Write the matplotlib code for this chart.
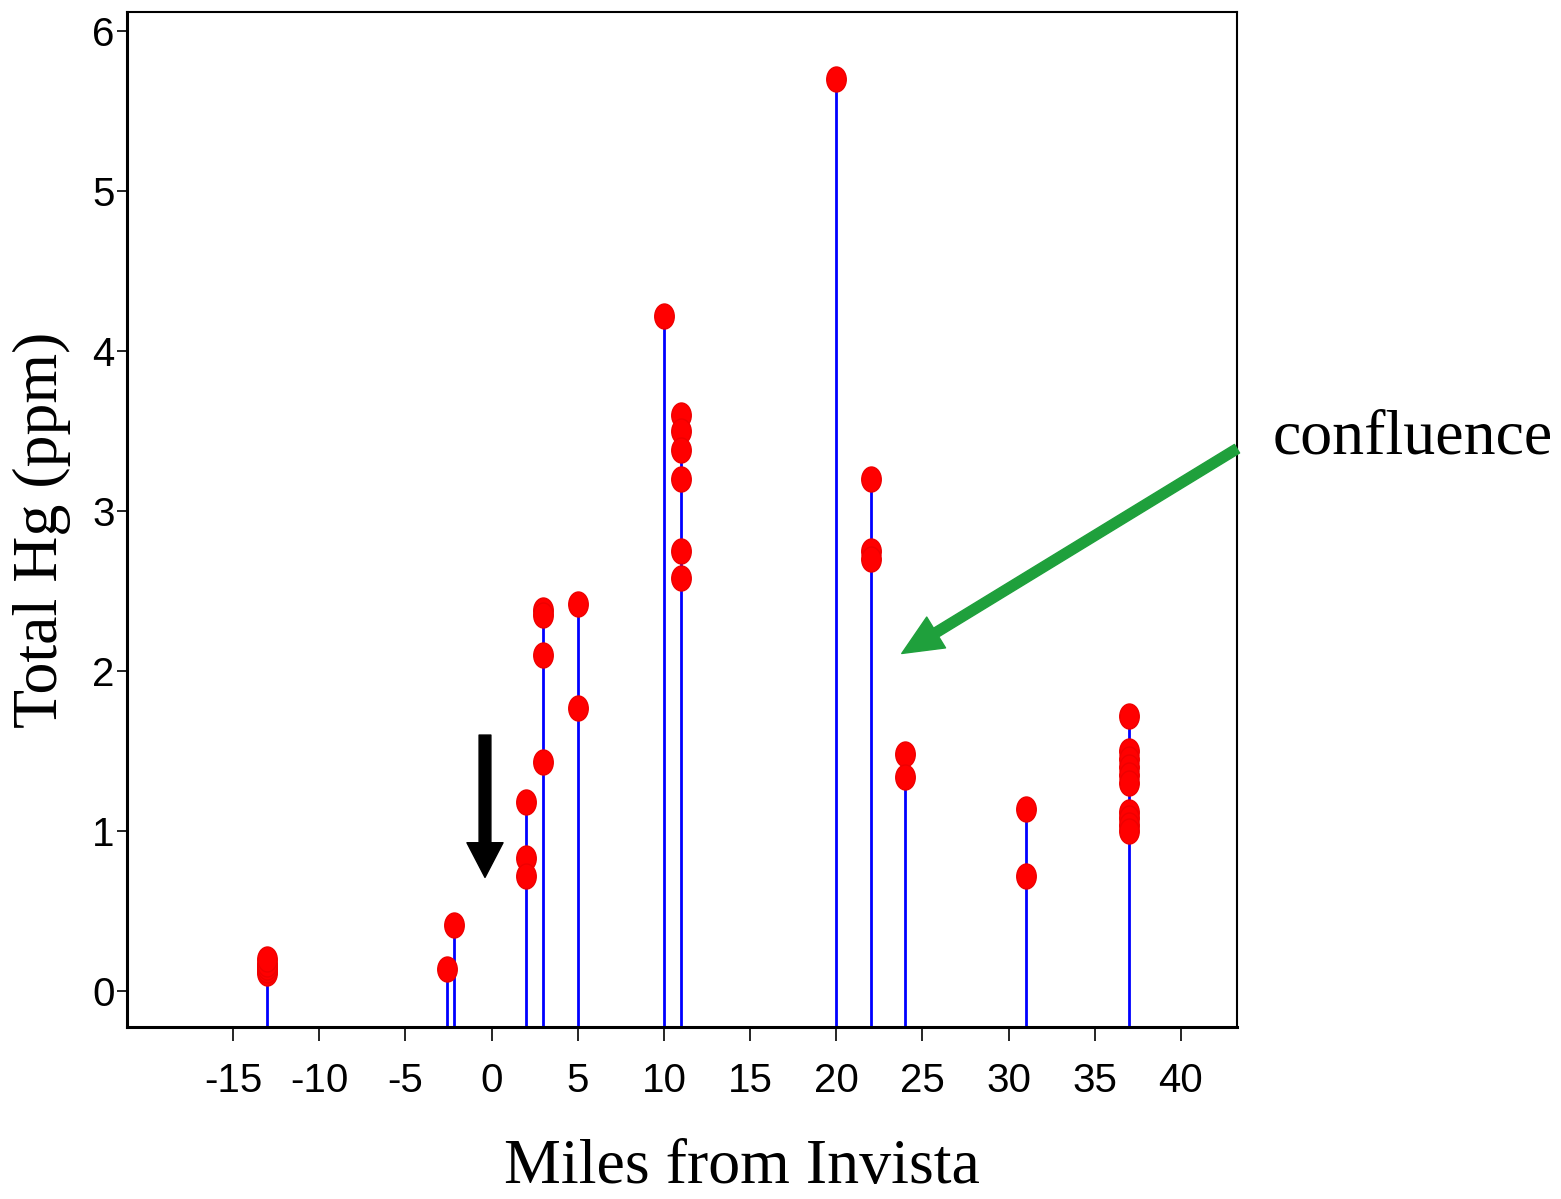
import matplotlib
matplotlib.use("Agg")
import matplotlib.pyplot as plt
from matplotlib.path import Path
from matplotlib.transforms import Affine2D

# sample sites (miles from Invista) and total Hg readings
miles = [-13, -13, -13, -13, -13,
         -2.6, -2.2,
         2, 2, 2,
         3, 3, 3, 3,
         5, 5,
         10,
         11, 11, 11, 11, 11, 11,
         20,
         22, 22, 22,
         24, 24,
         31, 31,
         37, 37, 37, 37, 37, 37, 37, 37, 37, 37]
hg = [0.11, 0.13, 0.15, 0.17, 0.2,
      0.14, 0.41,
      1.18, 0.83, 0.72,
      2.38, 2.35, 2.1, 1.43,
      2.42, 1.77,
      4.22,
      3.6, 3.5, 3.38, 3.2, 2.75, 2.58,
      5.7,
      3.2, 2.75, 2.7,
      1.48, 1.34,
      1.14, 0.72,
      1.72, 1.5, 1.45, 1.4, 1.35, 1.3, 1.12, 1.08, 1.04, 1.0]
xticks = list(range(-15, 41, 5))
yticks = list(range(0, 7))

serif = ["Liberation Serif", "DejaVu Serif"]
narrow = ["Liberation Sans Narrow", "Liberation Sans", "DejaVu Sans"]

fig = plt.figure(figsize=(15.61, 11.99), dpi=100)
ax = fig.add_axes([127 / 1561, 1 - 1027 / 1199, 1110 / 1561, 1015 / 1199])
ax.set_xlim(-21.15, 43.25)
ax.set_ylim(-0.225, 6.12)

# stems: one per site, up to the highest reading
sites = sorted(set(miles))
tops = [max(h for m, h in zip(miles, hg) if m == s) for s in sites]
ax.vlines(sites, -0.3, tops, color="#0000ff", lw=2, zorder=2)

ellipse = Path.unit_circle().transformed(Affine2D().scale(0.78, 1.0))
ax.plot(miles, hg, ls="none", marker=ellipse, ms=18, mfc="#ff0000",
        mec="#ee0000", mew=1, zorder=3)

ax.set_xticks(xticks)
ax.set_yticks(yticks)
ax.set_xticklabels([str(t) for t in xticks], family=narrow, fontsize=29)
ax.set_yticklabels([str(t) for t in yticks], family=narrow, fontsize=29)
ax.tick_params(axis="x", direction="out", length=10, width=1.2, pad=15)
ax.tick_params(axis="y", direction="out", length=7, width=1.2, pad=2)
for side in ["left", "bottom"]:
    ax.spines[side].set_linewidth(2.2)
for side in ["top", "right"]:
    ax.spines[side].set_linewidth(1.5)

fig.text(742 / 1561, 1 - 1168 / 1199, "Miles from Invista", family=serif,
         fontsize=46, ha="center", va="center")
fig.text(42 / 1561, 1 - 530 / 1199, "Total Hg (ppm)", family=serif,
         fontsize=46, rotation=90, ha="center", va="center")

# black arrow marking Invista
ax.annotate("", xy=(-0.38, 0.71), xytext=(-0.38, 1.6),
            arrowprops=dict(arrowstyle="simple,head_length=2.5,head_width=2.6,tail_width=0.85",
                            color="black", shrinkA=0, shrinkB=0, mutation_scale=10),
            annotation_clip=False)

# green arrow to the confluence
ax.annotate("", xy=(23.8, 2.11), xytext=(43.25, 3.39),
            arrowprops=dict(arrowstyle="simple,head_length=2.9,head_width=2.6,tail_width=0.72",
                            color="#1fa03c", shrinkA=0, shrinkB=0, mutation_scale=10),
            annotation_clip=False)
fig.text(1273 / 1561, 1 - 453 / 1199, "confluence", family=serif,
         fontsize=46, ha="left", va="baseline")

fig.savefig("out.png", dpi=100)
